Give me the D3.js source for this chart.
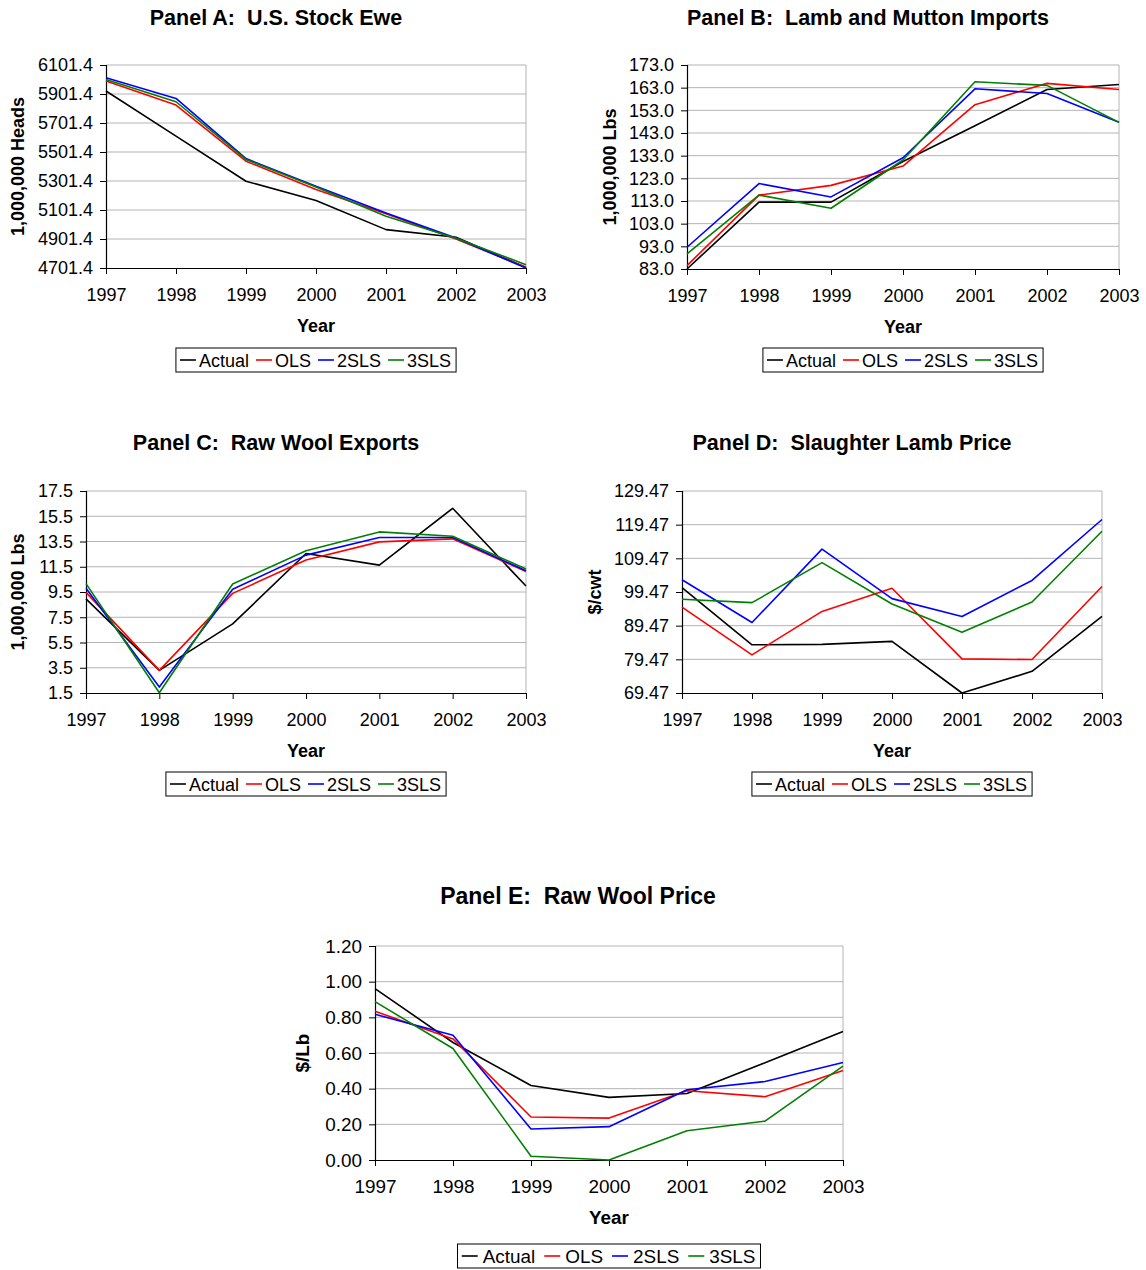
<!DOCTYPE html>
<html>
<head>
<meta charset="utf-8">
<script src="https://cdn.jsdelivr.net/npm/d3@7"></script>
<style>
  html, body { margin: 0; padding: 0; background: #fff; }
  svg { display: block; font-family: Arial, "Liberation Sans", sans-serif; }
  text { white-space: pre; }
</style>
</head>
<body>
<svg id="chart" width="1146" height="1270"></svg>
<script>
// ---------- data ----------
const years = [1997, 1998, 1999, 2000, 2001, 2002, 2003];
const seriesNames = ["Actual", "OLS", "2SLS", "3SLS"];
const seriesColors = ["#000000", "#ff0000", "#0000ff", "#008000"];

// Panel A: U.S. Stock Ewe (1,000,000 Heads)
const ewesActual = [5921.8, 5611.0, 5300.0, 5166.5, 4966.0, 4913.0, 4705.0];
const ewesOLS    = [5991.0, 5825.0, 5438.0, 5242.0, 5076.0, 4901.0, 4706.0];
const ewes2SLS   = [6014.0, 5871.0, 5456.0, 5265.0, 5081.0, 4908.0, 4701.4];
const ewes3SLS   = [6002.0, 5848.0, 5450.0, 5260.0, 5058.0, 4906.0, 4724.0];
const ewesTicks  = [4701.4, 4901.4, 5101.4, 5301.4, 5501.4, 5701.4, 5901.4, 6101.4];

// Panel B: Lamb and Mutton Imports (1,000,000 Lbs)
const importsActual = [83.0, 112.5, 112.5, 130.4, 146.2, 162.2, 164.4];
const importsOLS    = [84.5, 115.6, 119.9, 128.4, 155.5, 164.9, 162.2];
const imports2SLS   = [92.6, 120.7, 114.8, 132.1, 162.5, 160.4, 147.7];
const imports3SLS   = [89.7, 115.6, 109.8, 131.1, 165.6, 164.0, 147.7];
const importsTicks  = [83.0, 93.0, 103.0, 113.0, 123.0, 133.0, 143.0, 153.0, 163.0, 173.0];

// Panel C: Raw Wool Exports (1,000,000 Lbs)
const exportsActual = [8.95, 3.29, 6.97, 12.55, 11.63, 16.13, 9.97];
const exportsOLS    = [9.47, 3.29, 9.39, 12.03, 13.47, 13.71, 11.13];
const exports2SLS   = [9.79, 1.97, 9.71, 12.42, 13.82, 13.82, 11.18];
const exports3SLS   = [10.16, 1.52, 10.13, 12.76, 14.26, 13.92, 11.32];
const exportsTicks  = [1.5, 3.5, 5.5, 7.5, 9.5, 11.5, 13.5, 15.5, 17.5];

// Panel D: Slaughter Lamb Price ($/cwt)
const lambActual = [100.8, 83.8, 83.9, 84.8, 69.47, 75.9, 92.2];
const lambOLS    = [95.0, 80.8, 93.7, 100.6, 79.6, 79.4, 101.1];
const lamb2SLS   = [103.1, 90.4, 112.2, 97.5, 92.2, 102.9, 121.0];
const lamb3SLS   = [97.3, 96.3, 108.2, 95.9, 87.5, 96.5, 117.5];
const lambTicks  = [69.47, 79.47, 89.47, 99.47, 109.47, 119.47, 129.47];

// Panel E: Raw Wool Price ($/Lb)
const woolActual = [0.961, 0.659, 0.418, 0.351, 0.373, 0.545, 0.720];
const woolOLS    = [0.834, 0.679, 0.241, 0.235, 0.388, 0.355, 0.502];
const wool2SLS   = [0.817, 0.700, 0.174, 0.187, 0.394, 0.440, 0.547];
const wool3SLS   = [0.888, 0.625, 0.021, 0.000, 0.164, 0.218, 0.526];
const woolTicks  = [0.0, 0.2, 0.4, 0.6, 0.8, 1.0, 1.2];

// ---------- layout ----------
const panels = [
  { title: "Panel A:  U.S. Stock Ewe", ylabel: "1,000,000 Heads", fmt: ".1f",
    series: [ewesActual, ewesOLS, ewes2SLS, ewes3SLS], ticks: ewesTicks,
    box: { l: 106, r: 526, t: 65, b: 268 }, titleX: 276, titleY: 25, ylabelX: 24,
    legend: { y: 348 }, fs: 1 },
  { title: "Panel B:  Lamb and Mutton Imports", ylabel: "1,000,000 Lbs", fmt: ".1f",
    series: [importsActual, importsOLS, imports2SLS, imports3SLS], ticks: importsTicks,
    box: { l: 687, r: 1119, t: 65, b: 269 }, titleX: 868, titleY: 25, ylabelX: 616,
    legend: { y: 348 }, fs: 1 },
  { title: "Panel C:  Raw Wool Exports", ylabel: "1,000,000 Lbs", fmt: ".1f",
    series: [exportsActual, exportsOLS, exports2SLS, exports3SLS], ticks: exportsTicks,
    box: { l: 86, r: 526, t: 491, b: 693 }, titleX: 276, titleY: 450, ylabelX: 24,
    legend: { y: 772 }, fs: 1 },
  { title: "Panel D:  Slaughter Lamb Price", ylabel: "$/cwt", fmt: ".2f",
    series: [lambActual, lambOLS, lamb2SLS, lamb3SLS], ticks: lambTicks,
    box: { l: 682, r: 1102, t: 491, b: 693 }, titleX: 852, titleY: 450, ylabelX: 601,
    legend: { y: 772 }, fs: 1 },
  { title: "Panel E:  Raw Wool Price", ylabel: "$/Lb", fmt: ".2f",
    series: [woolActual, woolOLS, wool2SLS, wool3SLS], ticks: woolTicks,
    box: { l: 375, r: 843, t: 946, b: 1160 }, titleX: 578, titleY: 904, ylabelX: 309,
    legend: { y: 1244 }, fs: 1.05 }
];

const svg = d3.select("#chart");
const gridColor = "#b4b4b4";
const FONT = "Arial, 'Liberation Sans', sans-serif";

panels.forEach(p => {
  const g = svg.append("g");
  const fs = p.fs;
  const x = d3.scaleLinear().domain([years[0], years[years.length - 1]]).range([p.box.l, p.box.r]);
  const y = d3.scaleLinear().domain([p.ticks[0], p.ticks[p.ticks.length - 1]]).range([p.box.b, p.box.t]);

  // gridlines
  g.selectAll("line.grid").data(p.ticks.slice(1)).join("line")
    .attr("x1", p.box.l).attr("x2", p.box.r)
    .attr("y1", d => y(d)).attr("y2", d => y(d))
    .attr("stroke", gridColor).attr("stroke-width", 1);
  // right border
  g.append("line").attr("x1", p.box.r).attr("x2", p.box.r)
    .attr("y1", p.box.t).attr("y2", p.box.b).attr("stroke", gridColor);

  // y axis
  const yAxis = d3.axisLeft(y).tickValues(p.ticks).tickFormat(d3.format(p.fmt))
    .tickSize(6).tickPadding(7);
  const ya = g.append("g").attr("transform", `translate(${p.box.l},0)`).call(yAxis);
  ya.select(".domain").attr("stroke", "#000").attr("stroke-width", 1.2);
  ya.selectAll(".tick line").attr("stroke", "#000");
  ya.selectAll("text").attr("font-size", 18 * fs).attr("fill", "#000")
    .attr("font-family", FONT);

  // x axis
  const xAxis = d3.axisBottom(x).tickValues(years).tickFormat(d3.format("d"))
    .tickSize(6).tickSizeOuter(0).tickPadding(14);
  const xa = g.append("g").attr("transform", `translate(0,${p.box.b})`).call(xAxis);
  xa.select(".domain").attr("stroke", "#000").attr("stroke-width", 1.2);
  xa.selectAll(".tick line").attr("stroke", "#000");
  xa.selectAll("text").attr("font-size", 18 * fs).attr("fill", "#000")
    .attr("font-family", FONT);

  // series lines
  const line = d3.line().x((d, i) => x(years[i])).y(d => y(d));
  p.series.forEach((s, k) => {
    g.append("path").datum(s).attr("d", line)
      .attr("fill", "none").attr("stroke", seriesColors[k])
      .attr("stroke-width", 1.6).attr("stroke-linejoin", "round");
  });

  // title
  g.append("text").attr("x", p.titleX).attr("y", p.titleY)
    .attr("text-anchor", "middle").attr("font-size", 21.5 * (fs > 1 ? 1.07 : 1)).attr("font-weight", "bold")
    .attr("xml:space", "preserve")
    .text(p.title);

  // y label
  const cy = (p.box.t + p.box.b) / 2;
  g.append("text").attr("transform", `translate(${p.ylabelX},${cy}) rotate(-90)`)
    .attr("text-anchor", "middle").attr("font-size", 18 * fs).attr("font-weight", "bold")
    .text(p.ylabel);

  // x label
  const cx = (p.box.l + p.box.r) / 2;
  g.append("text").attr("x", cx).attr("y", p.box.b + 64)
    .attr("text-anchor", "middle").attr("font-size", 18 * fs).attr("font-weight", "bold")
    .text("Year");

  // legend
  const lh = 24;
  const lg = g.append("g");
  const lineGap = fs > 1 ? 5 : 3;
  const itemGap = fs > 1 ? 9 : 7;
  let off = 4 * fs;
  seriesNames.forEach((name, k) => {
    lg.append("line").attr("x1", off).attr("x2", off + 16)
      .attr("y1", lh / 2).attr("y2", lh / 2)
      .attr("stroke", seriesColors[k]).attr("stroke-width", 1.6);
    const t = lg.append("text").attr("x", off + 16 + lineGap).attr("y", lh / 2 + 6.5)
      .attr("font-size", 18 * fs).text(name);
    const tw = t.node().getComputedTextLength();
    off += 16 + lineGap + tw + (k < seriesNames.length - 1 ? itemGap : 5);
  });
  const lw = off;
  lg.insert("rect", ":first-child").attr("width", lw).attr("height", lh)
    .attr("fill", "#fff").attr("stroke", "#000").attr("stroke-width", 1);
  lg.attr("transform", `translate(${cx - lw / 2},${p.legend.y})`);
});
</script>
</body>
</html>
